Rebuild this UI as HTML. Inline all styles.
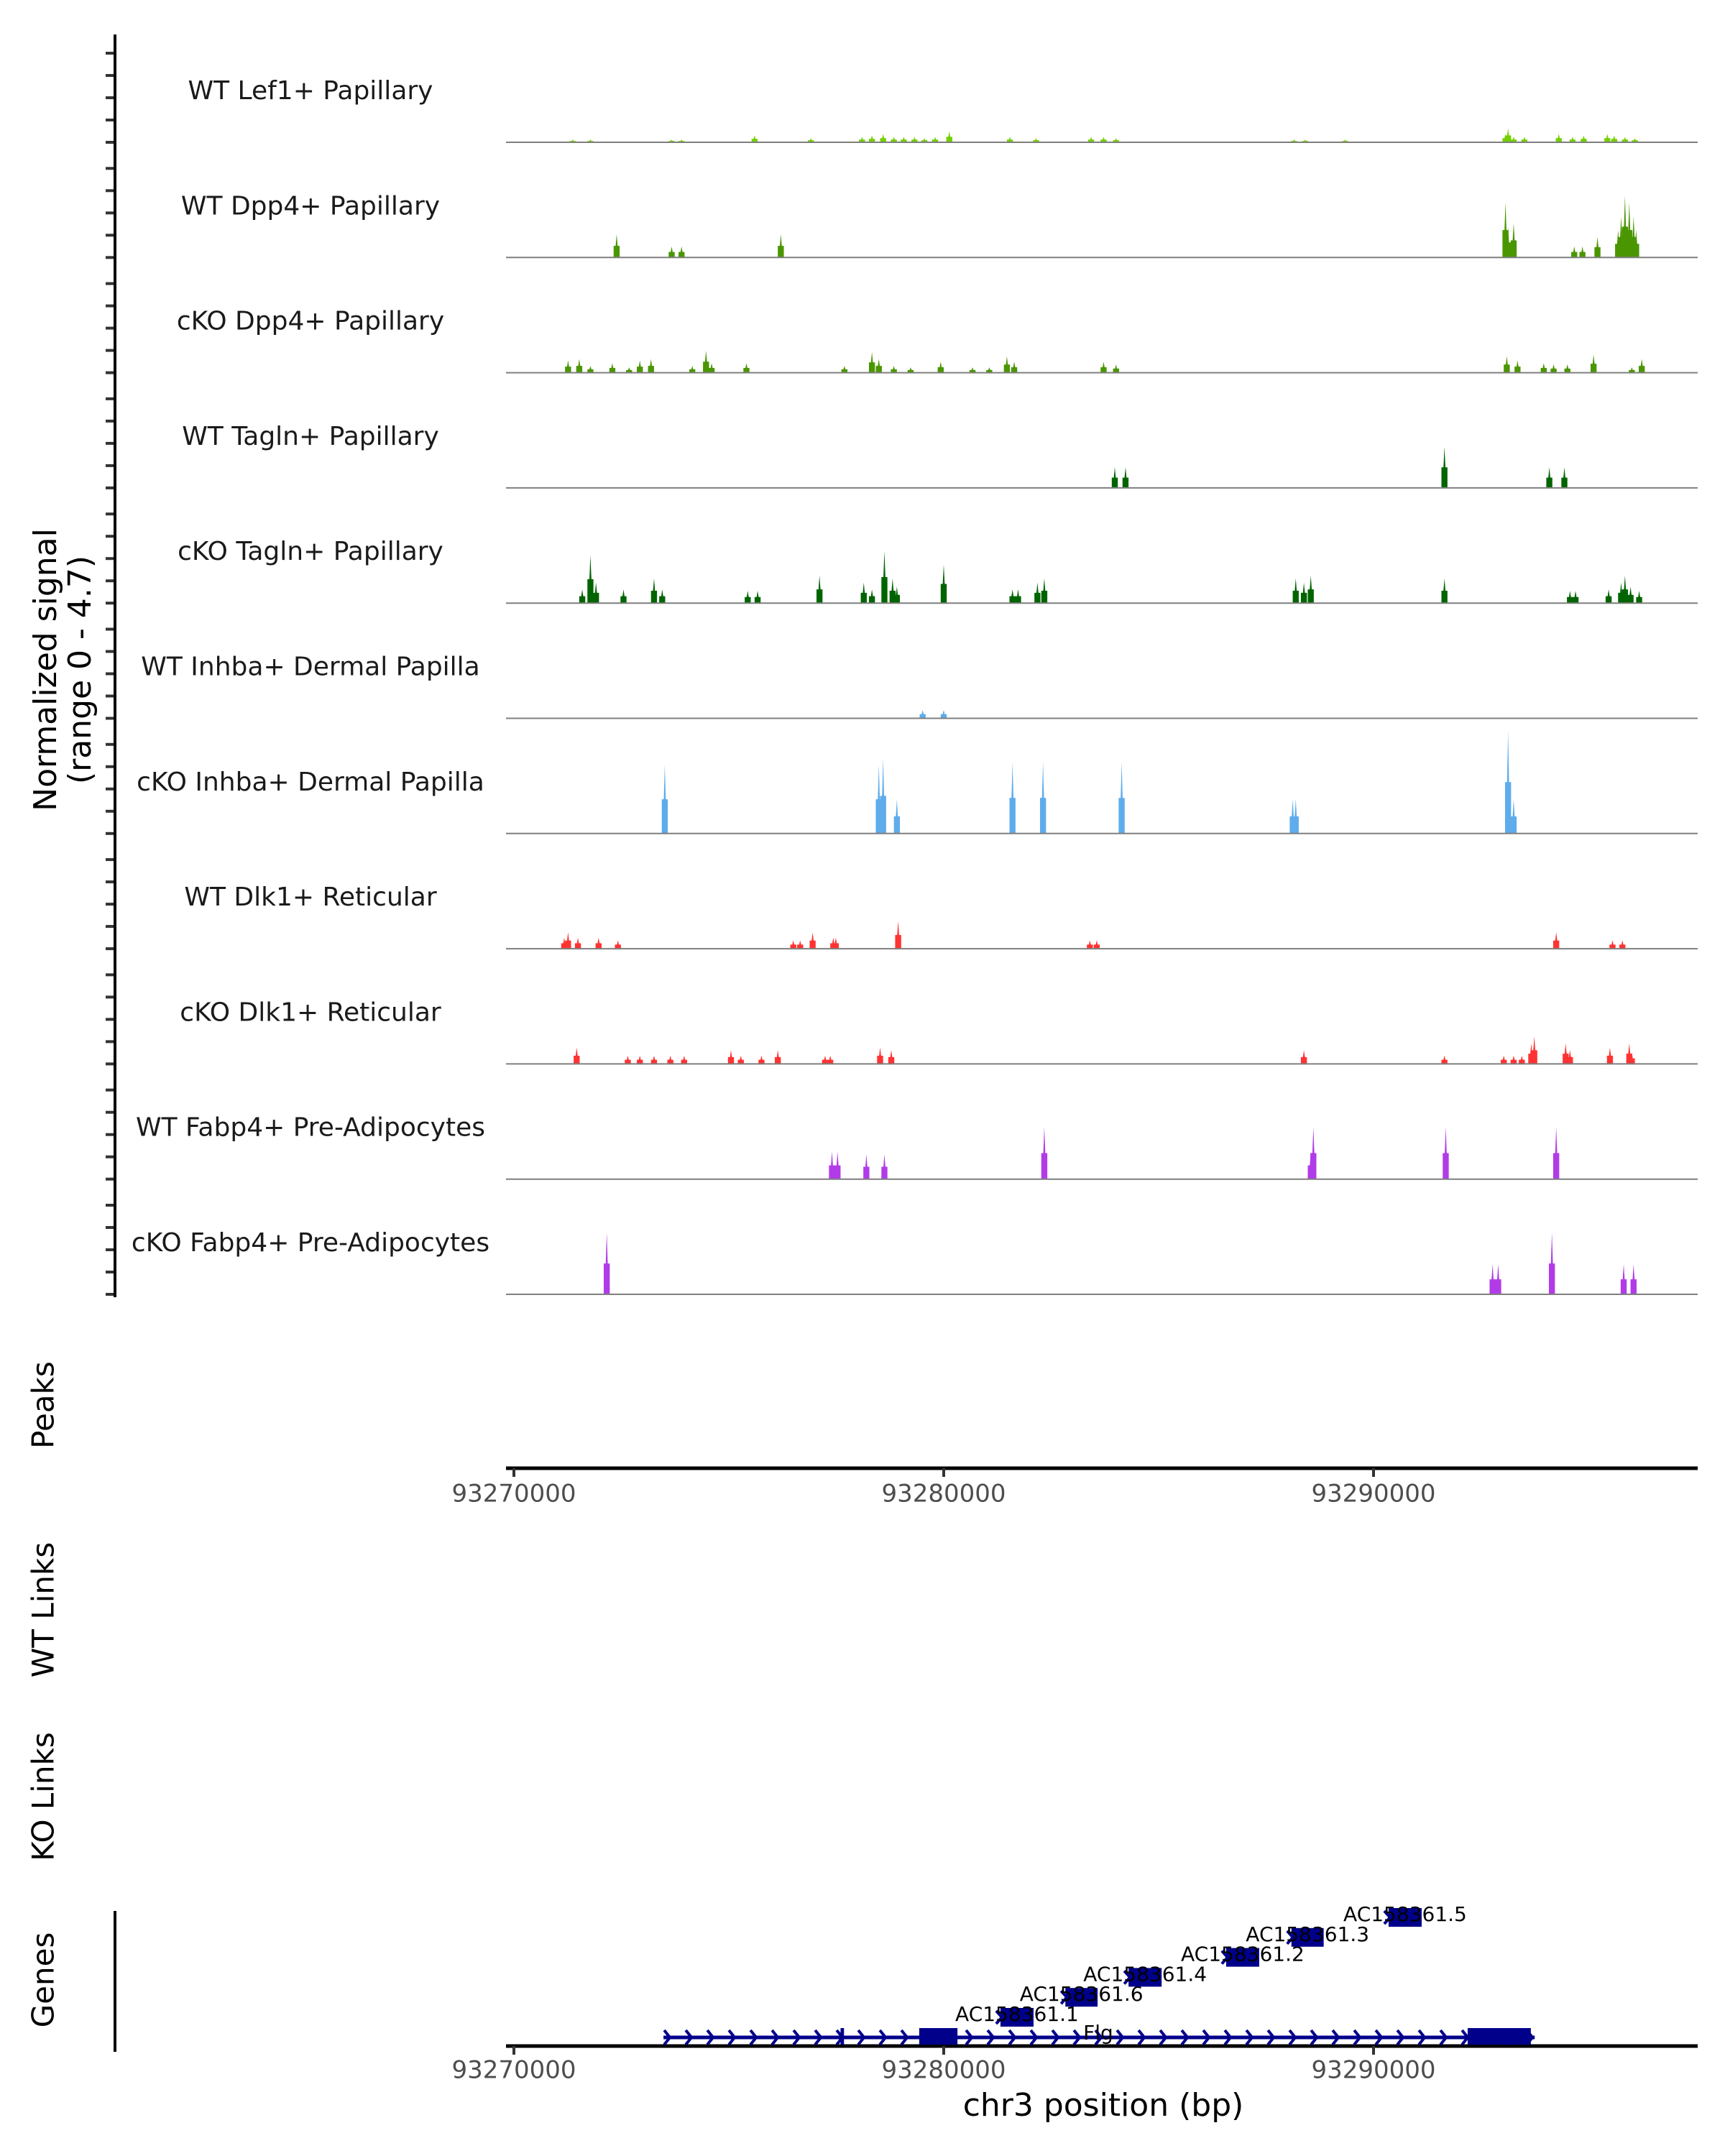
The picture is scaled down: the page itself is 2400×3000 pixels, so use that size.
<!DOCTYPE html>
<html><head><meta charset="utf-8"><title>Coverage plot chr3</title>
<style>
html,body{margin:0;padding:0;background:#fff;}
svg{display:block;font-family:"DejaVu Sans","Liberation Sans",sans-serif;}
</style></head>
<body>
<svg id="chart" xmlns="http://www.w3.org/2000/svg" width="2400" height="3000" viewBox="0 0 2400 3000">
<rect width="2400" height="3000" fill="#fff"/>
<g id="tracks"></g>
<g id="axes"></g>
<g id="genes"></g>
</svg>
<script>
// ---- data ----
const trackNames = ["WT Lef1+ Papillary","WT Dpp4+ Papillary","cKO Dpp4+ Papillary","WT Tagln+ Papillary","cKO Tagln+ Papillary","WT Inhba+ Dermal Papilla","cKO Inhba+ Dermal Papilla","WT Dlk1+ Reticular","cKO Dlk1+ Reticular","WT Fabp4+ Pre-Adipocytes","cKO Fabp4+ Pre-Adipocytes"];
const trackColors = ["#74cf00","#4a9600","#4a9600","#006400","#006400","#5eacec","#5eacec","#ff3333","#ff3333","#b23be8","#b23be8"];
// peak positions in kb offset from 93,270,000
const posLef1 = [1.37,1.78,3.67,3.90,5.60,6.91,8.10,8.33,8.59,8.84,9.07,9.32,9.55,9.80,10.13,11.54,12.15,13.43,13.72,14.01,18.15,18.41,19.34,23.07,23.13,23.26,23.51,24.31,24.63,24.89,25.44,25.60,25.85,26.08];
const sigLef1 = [0.11,0.11,0.11,0.11,0.28,0.17,0.22,0.28,0.34,0.22,0.22,0.22,0.17,0.22,0.45,0.22,0.17,0.22,0.22,0.17,0.11,0.11,0.11,0.34,0.56,0.22,0.22,0.34,0.22,0.28,0.34,0.28,0.22,0.17];
const posDpp4WT = [2.39,3.67,3.90,6.21,23.07,23.13,23.26,24.67,24.86,25.21,25.69,25.76,25.85,25.95,26.05,26.11];
const sigDpp4WT = [0.95,0.45,0.45,0.95,2.24,1.23,1.4,0.45,0.45,0.84,1.12,1.68,2.52,2.24,1.68,1.12];
const posDpp4KO = [1.26,1.52,1.78,2.29,2.68,2.93,3.19,4.15,4.47,4.60,5.41,7.69,8.33,8.49,8.84,9.23,9.93,10.67,11.06,11.47,11.64,13.72,14.01,23.10,23.35,23.96,24.19,24.51,25.12,26.01,26.24];
const sigDpp4KO = [0.5,0.56,0.28,0.39,0.22,0.5,0.56,0.28,0.9,0.39,0.39,0.28,0.84,0.56,0.28,0.22,0.45,0.22,0.22,0.67,0.45,0.45,0.34,0.67,0.5,0.39,0.34,0.34,0.73,0.22,0.56];
const posTaglnWT = [13.98,14.23,21.65,24.09,24.44];
const sigTaglnWT = [0.84,0.84,1.68,0.84,0.84];
const posTaglnKO = [1.59,1.78,1.91,2.55,3.26,3.45,5.44,5.67,7.11,8.14,8.33,8.62,8.81,8.91,10.00,11.60,11.73,12.18,12.34,18.19,18.38,18.54,21.65,24.57,24.70,25.47,25.76,25.85,25.98,26.18];
const sigTaglnKO = [0.56,1.96,0.84,0.56,1.01,0.56,0.5,0.5,1.12,0.84,0.56,2.13,1.01,0.67,1.57,0.56,0.56,0.84,1.01,1.01,0.84,1.12,1.01,0.5,0.5,0.56,0.84,1.12,0.67,0.5];
const posInhbaWT = [9.51,10.00];
const sigInhbaWT = [0.34,0.34];
const posInhbaKO = [3.51,8.49,8.59,8.91,11.60,12.31,14.14,18.12,18.19,23.13,23.26];
const sigInhbaKO = [2.8,2.8,3.08,1.4,2.91,2.91,2.91,1.4,1.4,4.2,1.4];
const posDlk1WT = [1.17,1.26,1.49,1.97,2.42,6.50,6.66,6.95,7.43,7.49,8.94,13.40,13.56,24.25,25.56,25.79];
const sigDlk1WT = [0.45,0.67,0.45,0.45,0.34,0.34,0.34,0.67,0.45,0.45,1.12,0.34,0.34,0.67,0.34,0.34];
const posDlk1KO = [1.46,2.65,2.93,3.26,3.64,3.96,5.05,5.28,5.76,6.14,7.24,7.36,8.52,8.78,18.38,21.65,23.03,23.26,23.45,23.67,23.74,24.47,24.57,25.50,25.95,26.01];
const sigDlk1KO = [0.67,0.34,0.34,0.34,0.34,0.34,0.56,0.34,0.34,0.56,0.34,0.34,0.67,0.56,0.56,0.34,0.34,0.34,0.34,0.84,1.12,0.84,0.56,0.67,0.84,0.45];
const posFabp4WT = [7.40,7.53,8.20,8.62,12.34,18.54,18.60,21.68,24.25];
const sigFabp4WT = [1.12,1.12,1.01,1.01,2.13,1.12,2.13,2.13,2.13];
const posFabp4KO = [2.16,22.77,22.90,24.15,25.82,26.05];
const sigFabp4KO = [2.52,1.23,1.23,2.52,1.23,1.23];
const tickLabels = ["93270000","93280000","93290000"];
const tickValues = [93270000,93280000,93290000];
const geneNames = ["AC158361.1","AC158361.6","AC158361.4","AC158361.2","AC158361.3","AC158361.5"];
const geneStarts = [11.32,12.83,14.30,16.57,18.09,20.35];
const geneEnds = [12.09,13.58,15.07,17.34,18.84,21.12];
const flgStart = 3.48, flgEnd = 23.75;
const flgExonStarts = [7.60,9.43,22.19];
const flgExonEnds = [7.68,10.32,23.66];

const positions = [posLef1,posDpp4WT,posDpp4KO,posTaglnWT,posTaglnKO,posInhbaWT,posInhbaKO,posDlk1WT,posDlk1KO,posFabp4WT,posFabp4KO];
const signals = [sigLef1,sigDpp4WT,sigDpp4KO,sigTaglnWT,sigTaglnKO,sigInhbaWT,sigInhbaKO,sigDlk1WT,sigDlk1KO,sigFabp4WT,sigFabp4KO];

// ---- scales ----
const NS="http://www.w3.org/2000/svg";
const X0=715, PXKB=59.8, XL=704, XR=2362;
const x = kb => X0 + kb*PXKB;
const xbp = bp => x((bp-93270000)/1000);
const TRACK_H=160.3, BASE0=198;
const base = i => BASE0 + i*TRACK_H;
const y = v => v*(160/4.7);
function mk(tag, attrs, parent){const e=document.createElementNS(NS,tag);for(const k in attrs)e.setAttribute(k,attrs[k]);parent.appendChild(e);return e;}

const tracks=document.getElementById('tracks');
const axes=document.getElementById('axes');
const genes=document.getElementById('genes');

trackNames.forEach((name,i)=>{
  const g=mk('g',{},tracks);
  
  
  const b=base(i);
  const lab=mk('text',{x:432,y:b-70,'font-size':36,fill:'#1a1a1a','text-anchor':'middle','dominant-baseline':'middle'},g);
  lab.textContent=name;
  
  
  const w=0.14*PXKB;
  positions[i].forEach((p,j)=>{
    const cx=x(p), h=y(signals[i][j]);
    const d=`M${cx-w/2},${b} L${cx-w/2},${b-h*0.5} L${cx-w/6},${b-h*0.5} L${cx},${b-h} L${cx+w/6},${b-h*0.5} L${cx+w/2},${b-h*0.5} L${cx+w/2},${b} Z`;
    const pk=mk('path',{d:d,fill:trackColors[i]},g);
    
    
  });
  const bl=mk('line',{x1:XL,x2:XR,y1:b,y2:b,stroke:'#7f7f7f','stroke-width':2},g);
  
  
  for(let k=0;k<5;k++){
    const t=mk('line',{x1:147,x2:160,y1:b-k*31,y2:b-k*31,stroke:'#333','stroke-width':4},axes);
    
    
  }
});
const yax=mk('line',{x1:160,x2:160,y1:48,y2:1805,stroke:'#000','stroke-width':4},axes);



function vlabel(txt,cx,cy,fs,nm){
  const t=mk('text',{x:cx,y:cy,'font-size':fs,fill:'#000','text-anchor':'middle','dominant-baseline':'middle',transform:`rotate(-90 ${cx} ${cy})`},axes);
  t.textContent=txt;
  
  
}
vlabel('Normalized signal',66,932,44,'y-axis-title');
vlabel('(range 0 - 4.7)',114,932,44,'y-axis-subtitle');
vlabel('Peaks',63,1955,42,'peaks-label');
vlabel('WT Links',63,2240,42,'wt-links-label');
vlabel('KO Links',63,2500,42,'ko-links-label');
vlabel('Genes',63,2755,42,'genes-label');

function xaxis(ay,ly,nm){
  const l=mk('line',{x1:XL,x2:XR,y1:ay,y2:ay,stroke:'#000','stroke-width':5},axes);
  
  
  tickValues.forEach((v,k)=>{
    const tx=xbp(v);
    const tk=mk('line',{x1:tx,x2:tx,y1:ay,y2:ay+12,stroke:'#333','stroke-width':4},axes);
    
    
    const tl=mk('text',{x:tx,y:ly,'font-size':34,fill:'#4d4d4d','text-anchor':'middle','dominant-baseline':'middle'},axes);
    tl.textContent=tickLabels[k];
    
    
  });
}
xaxis(2043,2080,'peaks-x-axis');
xaxis(2847,2882,'genes-x-axis');
const xt=mk('text',{x:1535,y:2932,'font-size':44,fill:'#000','text-anchor':'middle','dominant-baseline':'middle'},axes);
xt.textContent='chr3 position (bp)';


const gax=mk('line',{x1:160,x2:160,y1:2659,y2:2855,stroke:'#000','stroke-width':4},axes);



// Flg gene
const GC='#00008b', LY=2835;
const fl=mk('line',{x1:x(flgStart),x2:x(flgEnd),y1:LY,y2:LY,stroke:GC,'stroke-width':5},genes);


for(let cx=x(flgStart)+5; cx<x(flgEnd); cx+=30){
  const c=mk('path',{d:`M${cx-4},${LY-10} L${cx+4},${LY} L${cx-4},${LY+10}`,fill:'none',stroke:GC,'stroke-width':4},genes);
  
  
}
flgExonStarts.forEach((s,k)=>{
  const r=mk('rect',{x:x(s),y:2822,width:x(flgExonEnds[k])-x(s),height:23,fill:GC},genes);
  
  
});
const flab=mk('text',{x:1528,y:2838,'font-size':28,fill:'#000','text-anchor':'middle'},genes);
flab.textContent='Flg';


geneNames.forEach((n,k)=>{
  const top=2794-k*27.8;
  const s=x(geneStarts[k]), e=x(geneEnds[k]);
  const c=mk('path',{d:`M${s-6},${top+4} L${s+2},${top+13} L${s-6},${top+22}`,fill:'none',stroke:GC,'stroke-width':4},genes);
  
  
  const r=mk('rect',{x:s,y:top,width:e-s,height:26,fill:GC},genes);
  
  
  const t=mk('text',{x:(s+e)/2,y:top+18,'font-size':28,fill:'#000','text-anchor':'middle'},genes);
  t.textContent=n;
  
  
});
</script>
</body></html>
